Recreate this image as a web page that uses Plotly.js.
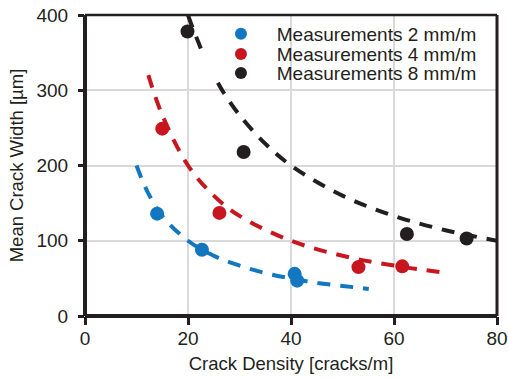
<!DOCTYPE html>
<html><head><meta charset="utf-8">
<script src="https://cdn.plot.ly/plotly-3.0.1.min.js"></script>
<style>html,body{margin:0;padding:0;background:#fff}#c{width:508px;height:378px}</style>
</head><body><div id="c"></div>
<script>
// Measured points
const blueX = [14.0, 22.7, 40.7, 41.2];
const blueY = [136, 88, 56, 47];
const redX = [15.0, 26.1, 53.1, 61.6];
const redY = [249, 137, 65, 66];
const blackX = [19.9, 30.8, 62.5, 74.1];
const blackY = [378, 218, 109, 103];
// Dashed trend curves (black one is interrupted under the legend)
const blueFitX = [10, 12, 15, 20, 25, 30, 35, 40, 45, 50, 55.1];
const blueFitY = [200, 167, 133, 100, 80, 67, 57, 50, 44, 40, 36];
const redFitX = [12.3, 15, 20, 25, 30, 40, 50, 60, 70.5];
const redFitY = [320, 267, 200, 160, 133, 100, 80, 67, 57];
const blackFitX = [20, 21, 22, 22.7, null, 25.8, 27, 30, 35, 40, 50, 60, 70, 80];
const blackFitY = [400, 381, 364, 352, null, 310, 296, 267, 229, 200, 160, 133, 114, 100];
const names = ['Measurements 2 mm/m', 'Measurements 4 mm/m', 'Measurements 8 mm/m'];
const cBlue = '#1276c0', cRed = '#c8161e', cBlack = '#231f20';
const pad = '\u00a0\u00a0\u00a0';

function fit(x, y, c) {
  return {x: x, y: y, mode: 'lines', showlegend: false, hoverinfo: 'skip', connectgaps: false,
    line: {color: c, width: 4, dash: '13px,10px', shape: 'spline'}};
}
function pts(x, y, c, n, lg) {
  return {x: x, y: y, mode: 'markers', name: pad + n, legend: lg,
    marker: {color: c, size: 14}};
}
const data = [
  fit(blueFitX, blueFitY, cBlue), fit(redFitX, redFitY, cRed), fit(blackFitX, blackFitY, cBlack),
  pts(blueX, blueY, cBlue, names[0], 'legend'), pts(redX, redY, cRed, names[1], 'legend2'),
  pts(blackX, blackY, cBlack, names[2], 'legend3')
];
const fam = 'Liberation Sans, Arial, sans-serif';
const ink = '#231f20';
function leg(y) {
  return {x: 0.33, y: y, xanchor: 'left', yanchor: 'middle', bgcolor: 'rgba(0,0,0,0)',
    borderwidth: 0, font: {family: fam, size: 19, color: ink}, itemsizing: 'constant'};
}
function border(x0, y0, x1, y1, w) {
  return {type: 'line', xref: 'paper', yref: 'paper', x0: x0, y0: y0, x1: x1, y1: y1,
    line: {color: ink, width: w}, layer: 'above'};
}
const layout = {
  width: 508, height: 378,
  margin: {l: 85, r: 11, t: 15, b: 62},
  paper_bgcolor: '#fff', plot_bgcolor: '#fff',
  font: {family: fam, size: 19, color: ink},
  showlegend: true,
  legend: leg(0.937), legend2: leg(0.870), legend3: leg(0.807),
  shapes: [border(0, 0, 1, 0, 4), border(0, 0, 0, 1, 4), border(0, 1, 1, 1, 2.5), border(1, 0, 1, 1, 3)],
  xaxis: {range: [0, 80], tickvals: [0, 20, 40, 60, 80], showgrid: true, gridcolor: '#d9d9d9', gridwidth: 2,
    zeroline: false, showline: false,
    ticks: 'outside', ticklen: 8, tickwidth: 3, tickcolor: ink, ticklabelstandoff: -3,
    tickfont: {family: fam, size: 19, color: ink},
    title: {text: 'Crack Density [cracks/m]', font: {family: fam, size: 18.5, color: ink}, standoff: 9}},
  yaxis: {range: [0, 400], tickvals: [0, 100, 200, 300, 400], showgrid: true, gridcolor: '#d9d9d9', gridwidth: 2,
    zeroline: false, showline: false,
    ticks: 'outside', ticklen: 6, tickwidth: 3, tickcolor: ink, ticklabelstandoff: 6,
    tickfont: {family: fam, size: 19, color: ink},
    title: {text: 'Mean Crack Width [µm]', font: {family: fam, size: 18.5, color: ink}, standoff: 8}}
};
Plotly.newPlot('c', data, layout, {displayModeBar: false, staticPlot: true});
</script></body></html>
